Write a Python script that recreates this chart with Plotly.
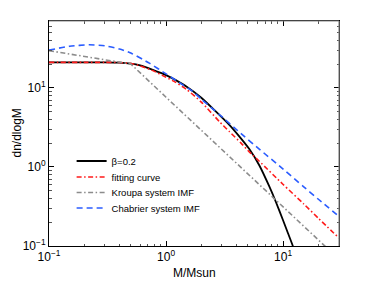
import plotly.graph_objects as go

# ---- data ----
beta_M = [0.1, 0.2, 0.3, 0.4, 0.5, 0.6, 0.77, 1.0, 1.2, 1.49, 2.0, 2.67, 3.47, 4.2, 5.14, 6.25, 7.6, 8.67, 10, 11, 12.1, 13.5]
beta_y = [21, 21, 21, 20.8, 20.2, 19.2, 16.9, 14.5, 12.6, 10.4, 7.5, 5.0, 3.4, 2.45, 1.68, 1.05, 0.57, 0.36, 0.21, 0.145, 0.1, 0.06]

fit_M = [0.1, 0.2, 0.3, 0.4, 0.5, 0.6, 0.77, 1.0, 1.2, 1.49, 2.0, 2.85, 3.47, 4.37, 5.14, 6.25, 10, 15, 20, 30]
fit_y = [21, 21, 21, 20.9, 20.3, 19.0, 16.5, 13.6, 11.8, 9.6, 6.6, 3.75, 2.8, 2.0, 1.55, 1.18, 0.6, 0.34, 0.224, 0.126]

kroupa_M = [0.1, 0.2, 0.3, 0.4, 0.5, 1.0, 2.0, 5.0, 10, 20, 30]
kroupa_y = [29.5, 24.9, 22.6, 21.1, 20.0, 7.6, 2.9, 0.81, 0.31, 0.12, 0.068]

chab_M = [0.1, 0.15, 0.22, 0.3, 0.4, 0.5, 0.72, 1.0, 1.39, 1.69, 2.0, 2.85, 4.5, 6.25, 10, 15, 20, 30]
chab_y = [30, 33.5, 35, 34, 31, 27.5, 20.5, 15.0, 10.9, 9.0, 7.2, 4.6, 2.54, 1.68, 0.94, 0.56, 0.39, 0.237]

names = ["\u03b2=0.2", "fitting curve", "Kroupa system IMF", "Chabrier system IMF"]

x_tickvals = [0.1, 1, 10]
x_ticktext = ["10<sup>\u22121</sup>", "10<sup>0</sup>", "10<sup>1</sup>"]
y_tickvals = [0.1, 1, 10]
y_ticktext = ["10<sup>\u22121</sup>", "10<sup>0</sup>", "10<sup>1</sup>"]
x_title = "M/Msun"
y_title = "dn/dlogM"

FONT = "Liberation Sans, Arial, sans-serif"

W, H = 374, 281
ML, MR, MT, MB = 49, 35, 21, 35
PH = H - MT - MB

DASHDOT = "5px,2.5px,1.5px,2.5px"
series = [
    (beta_M, beta_y, dict(color="black", width=1.8, shape="spline", smoothing=0.6)),
    (fit_M, fit_y, dict(color="#ff1a1a", width=1.6, dash=DASHDOT, shape="spline", smoothing=0.6)),
    (kroupa_M, kroupa_y, dict(color="#8c8c8c", width=1.6, dash=DASHDOT)),
    (chab_M, chab_y, dict(color="#2a5cff", width=1.6, dash="6px,4px", shape="spline", smoothing=0.6)),
]
legend_ids = ["legend", "legend2", "legend3", "legend4"]
legend_centers_px = [161, 177, 192.5, 208]

fig = go.Figure()
for (xs, ys, ln), nm, lid in zip(series, names, legend_ids):
    fig.add_trace(go.Scatter(x=xs, y=ys, mode="lines", name=nm, line=ln, legend=lid))

minor_x = [k * 10.0 ** e for e in (-1, 0, 1) for k in range(2, 10)]
minor_y = [k * 10.0 ** e for e in (-1, 0, 1) for k in range(2, 10)]

common = dict(showline=True, linecolor="black", linewidth=1, mirror="ticks",
              ticks="inside", ticklen=5, tickcolor="black", showgrid=False, zeroline=False,
              tickfont=dict(family=FONT, size=12, color="black"), automargin=False)

fig.update_xaxes(type="log", range=[-1, 1.4771], tickmode="array", tickvals=x_tickvals,
                 ticktext=x_ticktext,
                 minor=dict(tickmode="array", tickvals=minor_x, ticks="inside", ticklen=2.5,
                            tickcolor="#555"),
                 **common)
fig.update_yaxes(type="log", range=[-1, 1.845], tickmode="array", tickvals=y_tickvals,
                 ticktext=y_ticktext,
                 minor=dict(tickmode="array", tickvals=minor_y, ticks="inside", ticklen=2.5,
                            tickcolor="#555"),
                 **common)

legend_style = dict(x=0.078, xanchor="left", yanchor="middle", bgcolor="rgba(0,0,0,0)",
                    font=dict(family=FONT, size=9.5, color="black"))
layout_legends = {}
for lid, cy in zip(legend_ids, legend_centers_px):
    layout_legends[lid] = dict(y=(H - MB - cy) / PH, **legend_style)

fig.update_layout(
    width=W, height=H,
    margin=dict(l=ML, r=MR, t=MT, b=MB),
    paper_bgcolor="white", plot_bgcolor="white",
    font=dict(family=FONT, size=10, color="black"),
    showlegend=True,
    annotations=[
        dict(text=x_title, xref="paper", yref="paper", x=0.5, y=0, xanchor="center",
             yanchor="middle", yshift=-27, showarrow=False,
             font=dict(family=FONT, size=12, color="black")),
        dict(text=y_title, xref="paper", yref="paper", x=0, y=0.5, xanchor="center",
             yanchor="middle", xshift=-33, textangle=-90, showarrow=False,
             font=dict(family=FONT, size=12, color="black")),
    ],
    shapes=[
        dict(type="line", xref="paper", yref="paper", x0=0, x1=1, y0=1, y1=1,
             line=dict(color="#888", width=1.2), layer="above"),
        dict(type="line", xref="paper", yref="paper", x0=1, x1=1, y0=0, y1=1,
             line=dict(color="#888", width=1.2), layer="above"),
    ],
    **layout_legends,
)

fig.write_html("out.html", config={"displayModeBar": False},
               post_script="document.body.style.margin='0';")
